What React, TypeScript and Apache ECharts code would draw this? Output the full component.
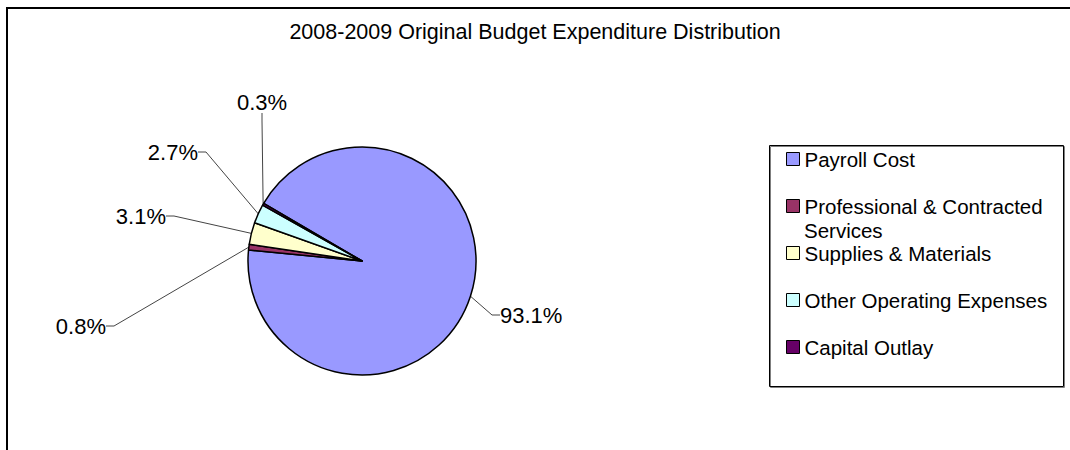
import { useEffect, useRef } from 'react';
import * as echarts from 'echarts';

// ---- data ----
const categories = [
  'Payroll Cost',
  'Professional & Contracted Services',
  'Supplies & Materials',
  'Other Operating Expenses',
  'Capital Outlay',
];
const shares = [93.1, 0.8, 3.1, 2.7, 0.3];
const sliceColors = ['#9999FF', '#993366', '#FFFFCC', '#CCFFFF', '#660066'];
const titleText = '2008-2009 Original Budget Expenditure Distribution';

// ---- layout / style ----
const FONT = '"Liberation Sans", Arial, Helvetica, sans-serif';
const CX = 362;
const CY = 261;
const R = 114;
// label anchor offsets from the pie centre: [dx, dy, align]
const labelSpots: [number, number, string][] = [
  [138, 54, 'left'],
  [-256, 65, 'right'],
  [-196, -45, 'right'],
  [-164, -109, 'right'],
  [-100, -159, 'center'],
];

export default function App() {
  const ref = useRef<HTMLDivElement>(null);

  useEffect(() => {
    document.body.style.margin = '0';
    document.body.style.overflow = 'hidden';
    if (!ref.current) return;
    const chart = echarts.init(ref.current, undefined, { renderer: 'svg' });

    const option: any = {
      animation: false,
      backgroundColor: '#ffffff',
      title: {
        text: titleText,
        left: 'center',
        top: 15,
        textStyle: {
          fontSize: 21.5,
          fontWeight: 'normal',
          color: '#000',
          fontFamily: FONT,
          lineHeight: 24,
        },
      },
      legend: {
        orient: 'vertical',
        left: 786,
        top: 148,
        padding: 0,
        itemWidth: 13,
        itemHeight: 13,
        itemGap: 25,
        icon: 'rect',
        selectedMode: false,
        data: categories,
        formatter: (name: string) =>
          name === categories[1] ? 'Professional & Contracted' : name,
        itemStyle: { borderColor: '#000', borderWidth: 1 },
        textStyle: {
          fontSize: 20.5,
          lineHeight: 22,
          color: '#000',
          fontFamily: FONT,
        },
      },
      graphic: [
        {
          type: 'rect',
          silent: true,
          shape: { x: 7, y: 8, width: 1200, height: 600 },
          style: { fill: 'none', stroke: '#000', lineWidth: 2 },
        },
        {
          type: 'rect',
          silent: true,
          shape: { x: 769.5, y: 145.5, width: 294, height: 241 },
          style: {
            fill: 'none',
            stroke: '#000',
            lineWidth: 1,
            shadowColor: 'rgba(0,0,0,0.5)',
            shadowOffsetX: 1,
            shadowOffsetY: 1,
            shadowBlur: 0,
          },
        },
        {
          type: 'text',
          silent: true,
          x: 804,
          y: 230,
          style: {
            text: 'Services',
            fontSize: 20.5,
            fontFamily: FONT,
            fill: '#000',
            verticalAlign: 'middle',
          },
        },
      ],
      series: [
        {
          type: 'pie',
          center: [CX, CY],
          radius: R,
          startAngle: 149.6,
          clockwise: true,
          avoidLabelOverlap: false,
          emphasis: { disabled: true },
          itemStyle: { borderColor: '#000', borderWidth: 1.5 },
          label: {
            show: true,
            color: '#000',
            fontSize: 22,
            fontFamily: FONT,
            formatter: (p: any) => p.value.toFixed(1) + '%',
          },
          labelLine: {
            show: true,
            length: 10,
            length2: 8,
            lineStyle: { color: '#444', width: 1 },
          },
          labelLayout: (params: any) => {
            const s = labelSpots[params.dataIndex];
            return {
              x: CX + s[0],
              y: CY + s[1],
              align: s[2],
              verticalAlign: 'middle',
            };
          },
          data: categories.map((name, i) => ({
            name,
            value: shares[i],
            itemStyle: { color: sliceColors[i] },
          })),
        },
      ],
    };

    chart.setOption(option);
    return () => chart.dispose();
  }, []);

  return <div ref={ref} style={{ width: 1070, height: 450 }} />;
}
